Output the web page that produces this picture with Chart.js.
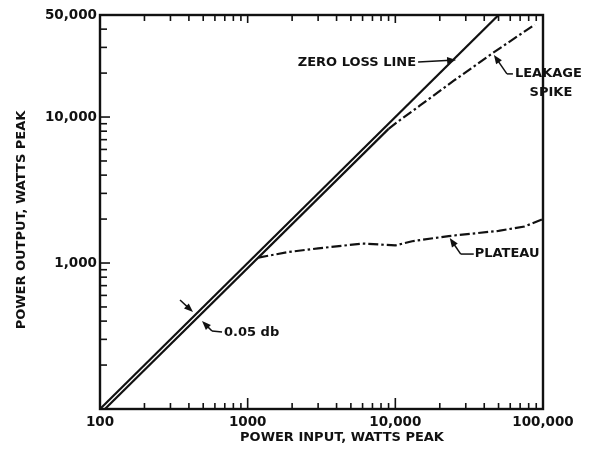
<!DOCTYPE html>
<html>
<head>
<meta charset="utf-8">
<script src="https://cdn.jsdelivr.net/npm/chart.js@4.4.1/dist/chart.umd.min.js"></script>
<style>
  html, body { margin: 0; padding: 0; background: #fff; }
</style>
</head>
<body>
<canvas id="chart" width="592" height="451"></canvas>
<script>
// values (watts peak)
const zeroLossIn  = [100, 50000];
const zeroLossOut = [100, 50000];
const lossLineIn  = [108, 9000];
const lossLineOut = [100, 8300];
const leakageIn   = [9000, 10700, 14700, 25000, 45800, 88000];
const leakageOut  = [8300, 9500, 12000, 17800, 27500, 43000];
const plateauIn   = [1180, 1900, 3000, 6000, 10000, 13000, 23000, 50000, 75000, 100000];
const plateauOut  = [1090, 1190, 1260, 1360, 1320, 1410, 1530, 1660, 1780, 2000];
const xTickLabels = { 100: '100', 1000: '1000', 10000: '10,000', 100000: '100,000' };
const yTickLabels = { 1000: '1,000', 10000: '10,000', 50000: '50,000' };

const FONT = 'DejaVu Sans';
const INK = '#111';

function toPoints(xs, ys) {
    return xs.map((x, i) => ({ x: x, y: ys[i] }));
}

// 1..9 x 10^n between min and max
function logTicks(min, max) {
    const out = [];
    for (let p = Math.pow(10, Math.floor(Math.log10(min))); p <= max; p *= 10) {
        for (let k = 1; k < 10; k++) {
            const v = k * p;
            if (v >= min - 1e-9 && v <= max + 1e-9) out.push({ value: v });
        }
    }
    return out;
}

function isDecade(v) {
    const l = Math.log10(v);
    return Math.abs(l - Math.round(l)) < 1e-6;
}

function arrow(ctx, x0, y0, x1, y1) {
    const a = Math.atan2(y1 - y0, x1 - x0);
    const len = 9, w = 3.5;
    ctx.beginPath();
    ctx.moveTo(x0, y0);
    ctx.lineTo(x1 - Math.cos(a) * len * 0.6, y1 - Math.sin(a) * len * 0.6);
    ctx.stroke();
    ctx.beginPath();
    ctx.moveTo(x1, y1);
    ctx.lineTo(x1 - Math.cos(a) * len - Math.sin(a) * w, y1 - Math.sin(a) * len + Math.cos(a) * w);
    ctx.lineTo(x1 - Math.cos(a) * len + Math.sin(a) * w, y1 - Math.sin(a) * len - Math.cos(a) * w);
    ctx.closePath();
    ctx.fill();
}

const framePlugin = {
    id: 'frame',
    afterDraw(chart) {
        const ctx = chart.ctx;
        const { left, right, top, bottom } = chart.chartArea;
        const xs = chart.scales.x, ys = chart.scales.y;
        ctx.save();
        ctx.strokeStyle = INK;
        ctx.fillStyle = INK;

        // box
        ctx.lineWidth = 2.4;
        ctx.strokeRect(left, top, right - left, bottom - top);

        // inward ticks: bottom, top, left
        ctx.lineWidth = 1.6;
        xs.ticks.forEach(t => {
            const px = xs.getPixelForValue(t.value);
            const len = isDecade(t.value) ? 11 : 6;
            ctx.beginPath();
            ctx.moveTo(px, bottom); ctx.lineTo(px, bottom - len);
            ctx.moveTo(px, top); ctx.lineTo(px, top + (isDecade(t.value) ? 8 : 6));
            ctx.stroke();
        });
        ys.ticks.forEach(t => {
            const py = ys.getPixelForValue(t.value);
            const len = isDecade(t.value) ? 10 : 7;
            ctx.beginPath();
            ctx.moveTo(left, py); ctx.lineTo(left + len, py);
            ctx.stroke();
        });

        // axis titles
        ctx.font = 'bold 13px ' + FONT;
        ctx.textAlign = 'center';
        ctx.textBaseline = 'middle';
        ctx.fillText('POWER INPUT, WATTS PEAK', 342, 438);
        ctx.save();
        ctx.translate(22, 220);
        ctx.rotate(-Math.PI / 2);
        ctx.fillText('POWER OUTPUT, WATTS PEAK', 0, 0);
        ctx.restore();

        // annotations
        ctx.lineWidth = 1.5;
        ctx.textBaseline = 'middle';

        // zero loss line
        let tx = xs.getPixelForValue(25000) + 2, ty = ys.getPixelForValue(25000) + 1;
        arrow(ctx, tx - 38, ty + 2, tx, ty);
        ctx.textAlign = 'right';
        ctx.fillText('ZERO LOSS LINE', tx - 40, ty + 3);

        // leakage spike
        tx = xs.getPixelForValue(45800) + 1; ty = ys.getPixelForValue(27500) + 2;
        ctx.beginPath();
        ctx.moveTo(tx + 19, ty + 19); ctx.lineTo(tx + 13, ty + 19);
        ctx.stroke();
        arrow(ctx, tx + 13, ty + 19, tx, ty);
        ctx.textAlign = 'left';
        ctx.fillText('LEAKAGE', tx + 21, ty + 19);
        ctx.textAlign = 'center';
        ctx.fillText('SPIKE', tx + 57, ty + 38);

        // plateau
        tx = xs.getPixelForValue(23000) + 1; ty = ys.getPixelForValue(1530) + 2;
        ctx.beginPath();
        ctx.moveTo(tx + 24, ty + 16); ctx.lineTo(tx + 11, ty + 16);
        ctx.stroke();
        arrow(ctx, tx + 11, ty + 16, tx, ty);
        ctx.textAlign = 'left';
        ctx.fillText('PLATEAU', tx + 25, ty + 16);

        // 0.05 db
        tx = xs.getPixelForValue(440); ty = ys.getPixelForValue(440);
        arrow(ctx, tx - 15, ty - 15, tx - 2, ty - 3);
        ctx.beginPath();
        ctx.moveTo(tx + 27, ty + 17); ctx.lineTo(tx + 17, ty + 16);
        ctx.stroke();
        arrow(ctx, tx + 17, ty + 16, tx + 7, ty + 6);
        ctx.textAlign = 'left';
        ctx.fillText('0.05 db', tx + 29, ty + 18);

        ctx.restore();
    }
};

const lineStyle = { showLine: true, pointRadius: 0, borderColor: INK, borderWidth: 2.2, fill: false, tension: 0 };

new Chart(document.getElementById('chart'), {
    type: 'scatter',
    data: {
        datasets: [
            Object.assign({ label: 'Zero loss line', data: toPoints(zeroLossIn, zeroLossOut) }, lineStyle),
            Object.assign({ label: '0.05 db', data: toPoints(lossLineIn, lossLineOut) }, lineStyle),
            Object.assign({ label: 'Leakage spike', data: toPoints(leakageIn, leakageOut), borderDash: [10, 3, 2.5, 3] }, lineStyle),
            Object.assign({ label: 'Plateau', data: toPoints(plateauIn, plateauOut), borderDash: [10, 3, 2.5, 3], tension: 0.3 }, lineStyle)
        ]
    },
    options: {
        responsive: false,
        animation: false,
        devicePixelRatio: 1,
        layout: { padding: { top: 15, right: 49, left: 0, bottom: 0 } },
        plugins: { legend: { display: false }, tooltip: { enabled: false } },
        scales: {
            x: {
                type: 'logarithmic',
                min: 100,
                max: 100000,
                afterBuildTicks: s => { s.ticks = logTicks(100, 100000); },
                afterFit: s => { s.height = 42; },
                grid: { display: false, drawTicks: false },
                border: { display: false },
                ticks: {
                    autoSkip: false,
                    maxRotation: 0,
                    padding: 5,
                    color: INK,
                    font: { family: FONT, size: 13.5, weight: 'bold' },
                    callback: v => xTickLabels[v] || ''
                }
            },
            y: {
                type: 'logarithmic',
                min: 100,
                max: 50000,
                afterBuildTicks: s => { s.ticks = logTicks(100, 50000); },
                afterFit: s => { s.width = 100; },
                grid: { display: false, drawTicks: false },
                border: { display: false },
                ticks: {
                    autoSkip: false,
                    padding: 3,
                    color: INK,
                    font: { family: FONT, size: 13.5, weight: 'bold' },
                    callback: v => yTickLabels[v] || ''
                }
            }
        }
    },
    plugins: [framePlugin]
});
</script>
</body>
</html>
